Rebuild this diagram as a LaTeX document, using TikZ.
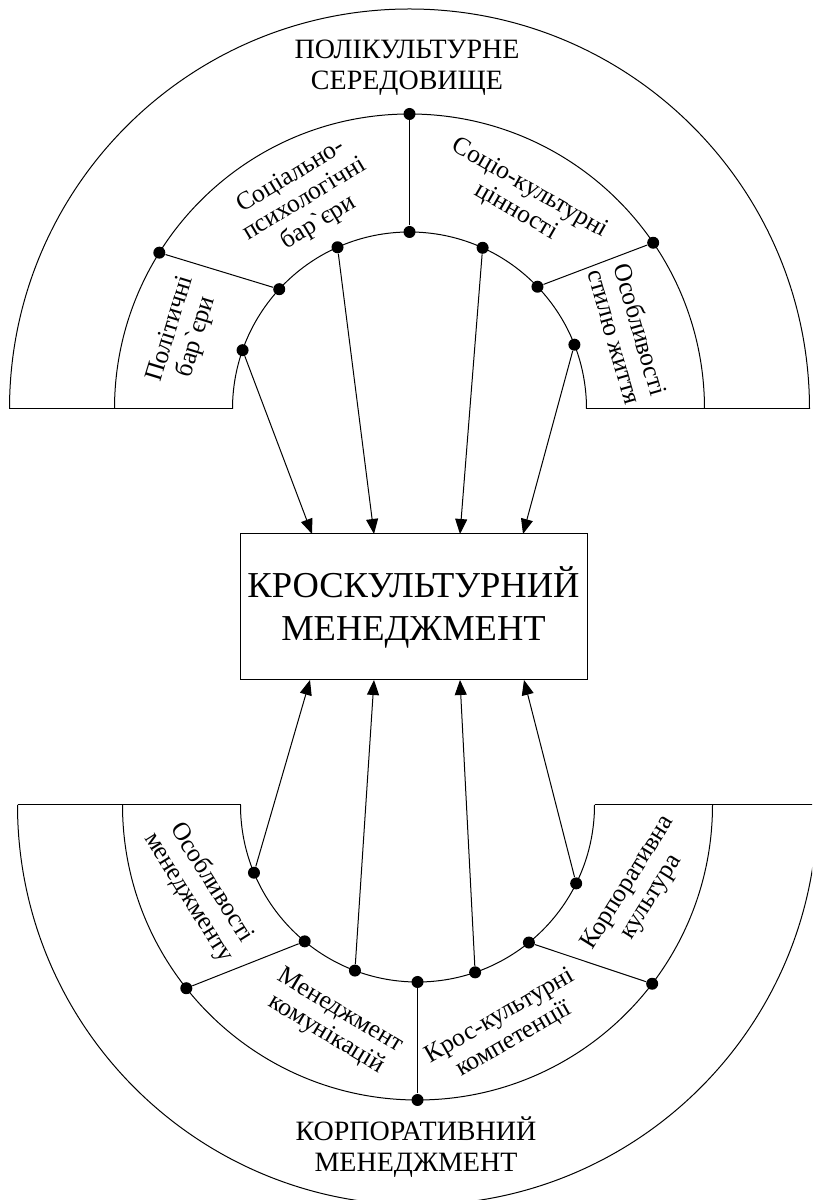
\documentclass[tikz,border=0pt]{standalone}
\usepackage{fontspec}
\setmainfont{Liberation Serif}
\newfontfamily\rawserif{Liberation Serif}
\newcommand{\grv}{{\rawserif\char"0060}}
\usetikzlibrary{arrows.meta,calc}
\begin{document}
\begin{tikzpicture}[x=1pt,y=1pt,line width=1pt,
  dot/.style={circle,fill=black,inner sep=0pt,minimum size=12pt},
  arr/.style={-{Triangle[length=15pt,width=12pt]}},
  lbl/.style={align=center,font=\fontsize{25.5}{27}\selectfont,inner sep=0pt},
  ttl/.style={align=center,font=\fontsize{28}{31}\selectfont,inner sep=0pt}]
\useasboundingbox (0,0) rectangle (812,1200);
\clip (0,0) rectangle (812,1200);

% ---------- top half ring ----------
\begin{scope}[shift={(409.5,791)}]
  \draw (-400,0) arc[start angle=180,end angle=0,radius=400];
  \draw (-295,0) arc[start angle=180,end angle=0,radius=295];
  \draw (-177,0) arc[start angle=180,end angle=0,radius=177];
  \draw (-400,0) -- (-177,0);
  \draw (177,0) -- (400,0);
  \node[dot] (td1o) at (148:295) {};
  \node[dot] (td1i) at (137.4:177) {};
  \node[dot] (td2o) at (90:295) {};
  \node[dot] (td2i) at (90:177) {};
  \node[dot] (td3o) at (34.3:295) {};
  \node[dot] (td3i) at (43.7:177) {};
  \node[dot] (ta1) at (160.6:177) {};
  \node[dot] (ta2) at (114:177) {};
  \node[dot] (ta3) at (65.6:177) {};
  \node[dot] (ta4) at (21.3:177) {};
\end{scope}
\draw (td1o) -- (td1i);
\draw (td2o) -- (td2i);
\draw (td3o) -- (td3i);

% ---------- bottom half ring ----------
\begin{scope}[shift={(417.5,395)}]
  \draw (-400,0) arc[start angle=180,end angle=360,radius=400];
  \draw (-295,0) arc[start angle=180,end angle=360,radius=295];
  \draw (-177,0) arc[start angle=180,end angle=360,radius=177];
  \draw (-400,0) -- (-177,0);
  \draw (177,0) -- (400,0);
  \node[dot] (bd1o) at (218.4:295) {};
  \node[dot] (bd1i) at (230.4:177) {};
  \node[dot] (bd2o) at (270:295) {};
  \node[dot] (bd2i) at (270:177) {};
  \node[dot] (bd3o) at (322.7:295) {};
  \node[dot] (bd3i) at (309:177) {};
  \node[dot] (ba1) at (202.5:177) {};
  \node[dot] (ba2) at (249.3:177) {};
  \node[dot] (ba3) at (289:177) {};
  \node[dot] (ba4) at (333.7:177) {};
\end{scope}
\draw (bd1o) -- (bd1i);
\draw (bd2o) -- (bd2i);
\draw (bd3o) -- (bd3i);

% ---------- central box ----------
\node[draw,minimum width=347pt,minimum height=146pt,align=center,
      font=\fontsize{36.5}{43}\selectfont] (box) at (413.5,593)
      {КРОСКУЛЬТУРНИЙ\\МЕНЕДЖМЕНТ};

\coordinate (tt1) at (312,666);
\coordinate (tt2) at (374,666);
\coordinate (tt3) at (460,666);
\coordinate (tt4) at (523,666);
\coordinate (bt1) at (310,520);
\coordinate (bt2) at (374,520);
\coordinate (bt3) at (460,520);
\coordinate (bt4) at (524,520);

\draw[arr] (ta1) -- (tt1);
\draw[arr] (ta2) -- (tt2);
\draw[arr] (ta3) -- (tt3);
\draw[arr] (ta4) -- (tt4);
\draw[arr] (ba1) -- (bt1);
\draw[arr] (ba2) -- (bt2);
\draw[arr] (ba3) -- (bt3);
\draw[arr] (ba4) -- (bt4);

% ---------- titles ----------
\node[ttl] (ttop) at (407,1132) {ПОЛІКУЛЬТУРНЕ\\СЕРЕДОВИЩЕ};
\node[ttl] (tbot) at (416,52.5) {КОРПОРАТИВНИЙ\\МЕНЕДЖМЕНТ};

% ---------- segment labels ----------
\node[lbl,rotate=73] (l1) at (184,867) {Політичні\\бар\grv єри};
\node[lbl,rotate=31] (l2) at (305,1000) {Соціально-\\психологічні\\бар\grv єри};
\node[lbl,rotate=-30] (l3) at (523,1000) {Соціо-культурні\\цінності};
\node[lbl,rotate=-74] (l4) at (628,867) {Особливості\\стилю життя};

\node[lbl,rotate=-58] (l5) at (200,310) {Особливості\\менеджменту};
\node[lbl,rotate=-31] (l6) at (333,177) {Менеджмент\\комунікацій};
\node[lbl,rotate=30] (l7) at (507,172) {Крос-культурні\\компетенції};
\node[lbl,rotate=58] (l8) at (640,310) {Корпоративна\\культура};
\end{tikzpicture}
\end{document}
